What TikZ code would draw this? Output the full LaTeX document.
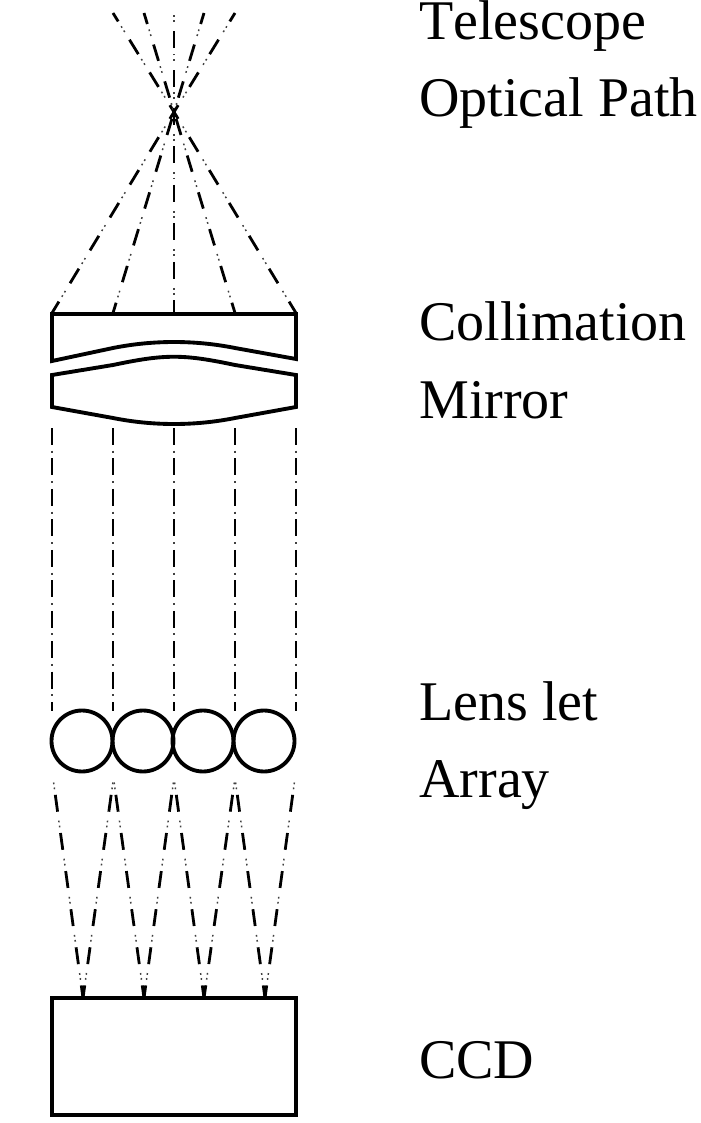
\documentclass[tikz,border=0pt]{standalone}
\usepackage{fontspec}
\setmainfont[Kerning=Off]{Liberation Serif}
\begin{document}
\begin{tikzpicture}[x=0.75pt,y=-0.75pt,
  solidpart/.style={draw=black,line width=2.9pt,line join=miter},
  ring/.style={solidpart,circle,minimum size=45.75pt,inner sep=0pt,outer sep=0pt},
  ray/.style={draw=black,line width=2.1pt,dash pattern=on 12.75pt off 16.1pt,dash phase=#1,
    postaction={draw=black!75,line width=1.1pt,dash pattern=on 0pt off 19.5pt on 1.3pt off 2.5pt on 1.3pt off 4.25pt,dash phase=#1}},
  ray/.default=0pt,
  beam/.style={draw=black,line width=2.1pt,dash pattern=on 12.75pt off 10.1pt,
    postaction={draw=black!75,line width=1.1pt,dash pattern=on 0pt off 17pt on 1.5pt off 4.35pt}},
  label/.style={anchor=base west,inner sep=0pt,font=\fontsize{42pt}{50pt}\selectfont}]
\useasboundingbox (0,0) rectangle (700,1123);
% ray end points
\coordinate (F) at (174,112);
\foreach \n/\x in {a/52,b/113,c/174,d/235,e/296}{
  \coordinate (m\n) at (\x,313);
  \coordinate (u\n) at (\x,428);
  \coordinate (v\n) at (\x,711);
}
\coordinate (wa) at (53,778);
\coordinate (wb) at (113.5,778);
\coordinate (wc) at (174,778);
\coordinate (wd) at (235,778);
\coordinate (we) at (295,778);
\coordinate (ta) at (113,13);
\coordinate (tb) at (144,13);
\coordinate (tc) at (174,13);
\coordinate (td) at (204,13);
\coordinate (te) at (235,13);
\coordinate (c1) at (83,998);
\coordinate (c2) at (144,998);
\coordinate (c3) at (204,998);
\coordinate (c4) at (265,998);
% rays above the focus
\draw[ray=6.75pt] (F) -- (ta);
\draw[ray=17.6pt] (F) -- (tb);
\draw[ray=9.75pt] (F) -- (tc);
\draw[ray=17.6pt] (F) -- (td);
\draw[ray=6.75pt] (F) -- (te);
% rays below the focus
\draw[ray=6.75pt] (F) -- (ma);
\draw[ray=23.6pt] (F) -- (mb);
\draw[ray=3pt] (F) -- (mc);
\draw[ray=23.6pt] (F) -- (md);
\draw[ray=6.75pt] (F) -- (me);
% parallel beams
\foreach \n in {a,b,c,d,e}{
  \draw[beam] (u\n) -- (v\n);
}
% rays to the CCD
\draw[ray=16.1pt] (wa) -- (c1);
\draw[ray=16.1pt] (wb) -- (c1);
\draw[ray=16.1pt] (wb) -- (c2);
\draw[ray=16.1pt] (wc) -- (c2);
\draw[ray=16.1pt] (wc) -- (c3);
\draw[ray=16.1pt] (wd) -- (c3);
\draw[ray=16.1pt] (wd) -- (c4);
\draw[ray=16.1pt] (we) -- (c4);
% collimation lenses
\draw[solidpart] (52,314) -- (296,314) -- (296,359)
  -- (235,348) .. controls (195,340) and (153,340) .. (113,348) -- (52,361) -- cycle;
\draw[solidpart] (52,375) -- (113,365) .. controls (165,354) and (183,354) .. (235,365) -- (296,375)
  -- (296,407) -- (235,418) .. controls (195,426) and (153,426) .. (113,418) -- (52,407) -- cycle;
% lenslets
\node[ring] (l1) at (82,741) {};
\node[ring] (l2) at (143,741) {};
\node[ring] (l3) at (203,741) {};
\node[ring] (l4) at (264,741) {};
% CCD
\draw[solidpart] (52,998) rectangle (296,1115);
% labels
\node[label] (t1) at (419,40) {Telescope};
\node[label] (t2) at (419,117) {Optical Path};
\node[label] (t3) at (419,340) {Collimation};
\node[label] (t4) at (419,418) {Mirror};
\node[label] (t5) at (419,720) {Lens let};
\node[label] (t6) at (419,797) {Array};
\node[label] (t7) at (419,1078) {CCD};
\end{tikzpicture}
\end{document}
